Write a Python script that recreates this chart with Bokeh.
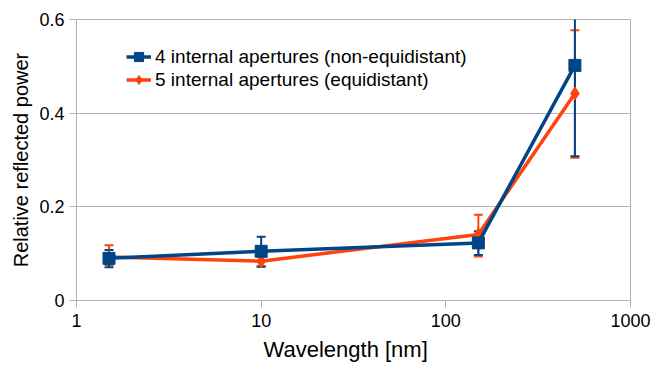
from bokeh.plotting import figure
from bokeh.models import ColumnDataSource, Whisker, TeeHead, Legend, LegendItem, FixedTicker, Title
from bokeh.embed import file_html
from bokeh.resources import INLINE

wavelength = [1.5, 10, 150, 500]
blue_y = [0.090, 0.105, 0.123, 0.502]
blue_lo = [0.071, 0.072, 0.097, 0.308]
blue_hi = [0.108, 0.136, 0.148, 0.69]
orange_y = [0.093, 0.084, 0.141, 0.442]
orange_lo = [0.076, 0.073, 0.094, 0.305]
orange_hi = [0.118, 0.095, 0.183, 0.577]
x_ticks = [1, 10, 100, 1000]
y_ticks = [0, 0.2, 0.4, 0.6]
label_blue = "4 internal apertures (non-equidistant)"
label_orange = "5 internal apertures (equidistant)"
x_title = "Wavelength [nm]"
y_title = "Relative reflected power"

BLUE = "#004586"
ORANGE = "#ff420e"
FONT = "Liberation Sans"

p = figure(width=660, height=371, x_axis_type="log", x_range=(1, 1000), y_range=(0, 0.6),
           output_backend="svg", toolbar_location=None,
           min_border_left=76, min_border_right=30, min_border_top=19, min_border_bottom=71)
p.outline_line_color = "#b3b3b3"
p.background_fill_color = "white"
p.border_fill_color = "white"

for ax in (p.xaxis, p.yaxis):
    ax.axis_line_color = "#b3b3b3"
    ax.major_tick_line_color = "#b3b3b3"
    ax.minor_tick_line_color = None
    ax.major_tick_out = 7
    ax.major_tick_in = 0
    ax.major_label_text_font = FONT
    ax.major_label_text_font_size = "18px"
    ax.major_label_text_color = "black"
    ax.axis_label_text_font = FONT
    ax.axis_label_text_font_style = "normal"
    ax.axis_label_text_color = "black"

p.xaxis.ticker = FixedTicker(ticks=x_ticks)
p.yaxis.ticker = FixedTicker(ticks=y_ticks)
p.xaxis.major_label_overrides = {1: "1", 10: "10", 100: "100", 1000: "1000"}
p.yaxis.major_label_overrides = {0: "0", 0.2: "0.2", 0.4: "0.4", 0.6: "0.6"}
p.yaxis.axis_label = y_title
p.yaxis.axis_label_text_font_size = "20px"
p.yaxis.axis_label_standoff = 4
p.xaxis.major_label_standoff = 6
p.yaxis.major_label_standoff = 5

xt = Title(text=x_title, align="left", offset=187, text_font=FONT, text_font_size="22px",
           text_font_style="normal", text_color="black", standoff=14, vertical_align="top")
p.add_layout(xt, "below")

p.xgrid.grid_line_color = None
p.ygrid.grid_line_color = "#b3b3b3"
p.ygrid.grid_line_width = 1

src_b = ColumnDataSource(dict(x=wavelength, y=blue_y, lo=blue_lo, hi=blue_hi))
src_o = ColumnDataSource(dict(x=wavelength, y=orange_y, lo=orange_lo, hi=orange_hi))

wo = Whisker(source=src_o, base="x", lower="lo", upper="hi", line_color=ORANGE, line_width=2,
             upper_head=TeeHead(size=9, line_color=ORANGE, line_width=2),
             lower_head=TeeHead(size=9, line_color=ORANGE, line_width=2))
p.add_layout(wo)

lo_line = p.line("x", "y", source=src_o, line_color=ORANGE, line_width=3.5)
lo_mark = p.scatter("x", "y", source=src_o, marker="diamond", size=13, fill_color=ORANGE, line_color=ORANGE)

wb = Whisker(source=src_b, base="x", lower="lo", upper="hi", line_color=BLUE, line_width=2,
             upper_head=TeeHead(size=9, line_color=BLUE, line_width=2),
             lower_head=TeeHead(size=9, line_color=BLUE, line_width=2))
p.add_layout(wb)

lb_line = p.line("x", "y", source=src_b, line_color=BLUE, line_width=3.5)
lb_mark = p.scatter("x", "y", source=src_b, marker="square", size=12, fill_color=BLUE, line_color=BLUE)

legend = Legend(items=[LegendItem(label=label_blue, renderers=[lb_line, lb_mark]),
                       LegendItem(label=label_orange, renderers=[lo_line, lo_mark])],
                location=(50, 209))
legend.background_fill_alpha = 0
legend.border_line_color = None
legend.label_text_font = FONT
legend.label_text_font_size = "19px"
legend.label_text_color = "black"
legend.glyph_width = 25
legend.glyph_height = 23
legend.label_height = 23
legend.label_standoff = 4
legend.spacing = 0
legend.padding = 2
legend.margin = 0
p.add_layout(legend)

open("out.html", "w").write(file_html(p, INLINE))
